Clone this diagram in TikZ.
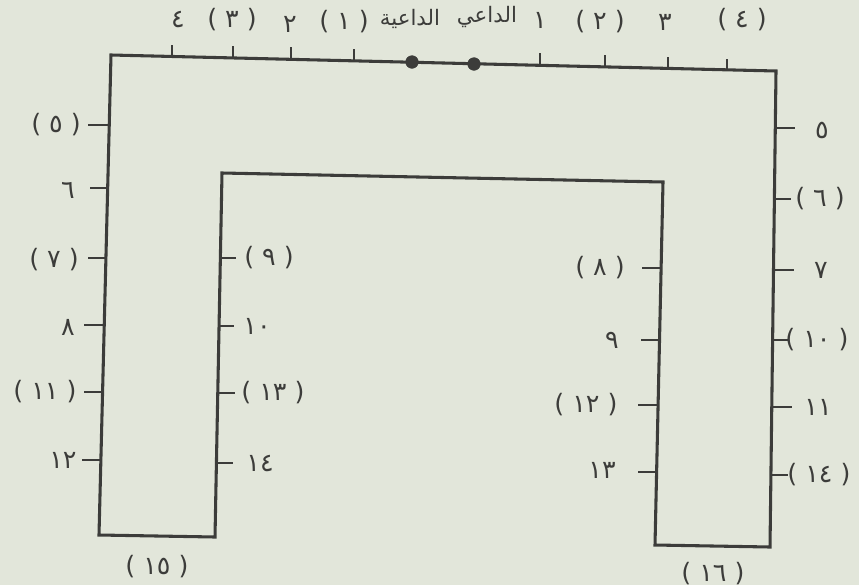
\documentclass[tikz,border=0pt]{standalone}
\usepackage{fontspec}
\usepackage{xcolor}
\TeXXeTstate=1
\newfontfamily\arabicfont[Script=Arabic]{DejaVu Sans}
\newfontfamily\digitfont{DejaVu Sans}
\definecolor{paper}{RGB}{226,230,218}
\definecolor{ink}{RGB}{60,60,58}
\tikzset{
  wall/.style={draw=ink, line width=2.3pt, line join=miter},
  guesttick/.style={draw=ink, line width=2.2pt},
  seat/.style={text=ink, inner sep=0.75pt, font=\digitfont\fontsize{19}{22}\selectfont},
  hostname/.style={text=ink, inner sep=0.75pt, font=\arabicfont\fontsize{16}{20}\selectfont},
  hostdot/.style={circle, fill=ink, draw=ink, inner sep=0pt, minimum size=9.5pt}
}

\begin{document}
\begin{tikzpicture}[x=0.75pt,y=0.75pt,yscale=-1,xscale=1]
        \path[fill=paper] (0,0) rectangle (859,585); %set diagram size 859 x 585
        
        %Shape: Table outline
        \draw [wall]  (99,535) -- (111,55) -- (776,71) -- (770,547) -- (655,545) -- (663,182) -- (222,173) -- (215,537) -- cycle ;
        
        %Straight Lines: top ticks
        \draw [guesttick]   (172,56.5) -- (172,45) ;
        \draw [guesttick]   (233,58) -- (233,46) ;
        \draw [guesttick]   (291,59) -- (291,47) ;
        \draw [guesttick]   (354,61) -- (354,49) ;
        \draw [guesttick]   (540,65) -- (540,53) ;
        \draw [guesttick]   (605,67) -- (605,55) ;
        \draw [guesttick]   (668,68.5) -- (668,57) ;
        \draw [guesttick]   (727,70) -- (727,59) ;
        %Straight Lines: outer left ticks
        \draw [guesttick]   (109,125) -- (88,125) ;
        \draw [guesttick]   (108,188) -- (90,188) ;
        \draw [guesttick]   (106,258) -- (88,258) ;
        \draw [guesttick]   (105,325) -- (84,325) ;
        \draw [guesttick]   (103,392) -- (84,392) ;
        \draw [guesttick]   (101,460) -- (82,460) ;
        %Straight Lines: inner left ticks
        \draw [guesttick]   (220,258) -- (236,258) ;
        \draw [guesttick]   (219,326) -- (234,326) ;
        \draw [guesttick]   (218,393) -- (235,393) ;
        \draw [guesttick]   (216.5,463) -- (233,463) ;
        %Straight Lines: inner right ticks
        \draw [guesttick]   (661,268) -- (642,268) ;
        \draw [guesttick]   (659.5,340) -- (641,340) ;
        \draw [guesttick]   (658,405) -- (638,405) ;
        \draw [guesttick]   (656.5,472) -- (638,472) ;
        %Straight Lines: outer right ticks
        \draw [guesttick]   (775,128) -- (795,128) ;
        \draw [guesttick]   (774,199) -- (791,199) ;
        \draw [guesttick]   (773.5,270) -- (794,270) ;
        \draw [guesttick]   (772.5,340) -- (789,340) ;
        \draw [guesttick]   (772,407) -- (792,407) ;
        \draw [guesttick]   (771,475) -- (788,475) ;
        
        %Shape: Circles (hostess, host)
        \node [hostdot] (hostess) at (412,62) {};
        \node [hostdot] (host) at (474,64) {};
        
        % Text Node
        \node [hostname] (hostesslbl) at (410,19) {\beginR الداعية\endR};
        % Text Node
        \node [hostname] (hostlbl) at (487,17) {\beginR الداعي\endR};
        % Text Node
        \node [seat] (t4) at (178,20) {٤};
        % Text Node
        \node [seat] (t3) at (232,20) {( ٣ )};
        % Text Node
        \node [seat] (t2) at (290,24) {٢};
        % Text Node
        \node [seat] (t1) at (344,22) {( ١ )};
        % Text Node
        \node [seat] (u1) at (540,20) {١};
        % Text Node
        \node [seat] (u2) at (600,22) {( ٢ )};
        % Text Node
        \node [seat] (u3) at (665,22) {٣};
        % Text Node
        \node [seat] (u4) at (742,20) {( ٤ )};
        
        % Text Node
        \node [seat] (g5) at (56,125) {( ٥ )};
        % Text Node
        \node [seat] (g6) at (68,190) {٦};
        % Text Node
        \node [seat] (g7) at (54,260) {( ٧ )};
        % Text Node
        \node [seat] (g8) at (68,327) {٨};
        % Text Node
        \node [seat] (g11) at (45,392) {( ١١ )};
        % Text Node
        \node [seat] (g12) at (63,460) {١٢};
        
        % Text Node
        \node [seat] (g9) at (269,258) {( ٩ )};
        % Text Node
        \node [seat] (g10) at (257,326) {١٠};
        % Text Node
        \node [seat] (g13) at (273,393) {( ١٣ )};
        % Text Node
        \node [seat] (g14) at (260,463) {١٤};
        
        % Text Node
        \node [seat] (h8) at (600,268) {( ٨ )};
        % Text Node
        \node [seat] (h9) at (612,340) {٩};
        % Text Node
        \node [seat] (h12) at (586,405) {( ١٢ )};
        % Text Node
        \node [seat] (h13) at (602,470) {١٣};
        
        % Text Node
        \node [seat] (h5) at (822,130) {٥};
        % Text Node
        \node [seat] (h6) at (820,199) {( ٦ )};
        % Text Node
        \node [seat] (h7) at (821,270) {٧};
        % Text Node
        \node [seat] (h10) at (817,340) {( ١٠ )};
        % Text Node
        \node [seat] (h11) at (818,407) {١١};
        % Text Node
        \node [seat] (h14) at (819,475) {( ١٤ )};
        
        % Text Node
        \node [seat] (e15) at (157,567) {( ١٥ )};
        % Text Node
        \node [seat] (e16) at (713,574) {( ١٦ )};
        
        \end{tikzpicture}
\end{document}
